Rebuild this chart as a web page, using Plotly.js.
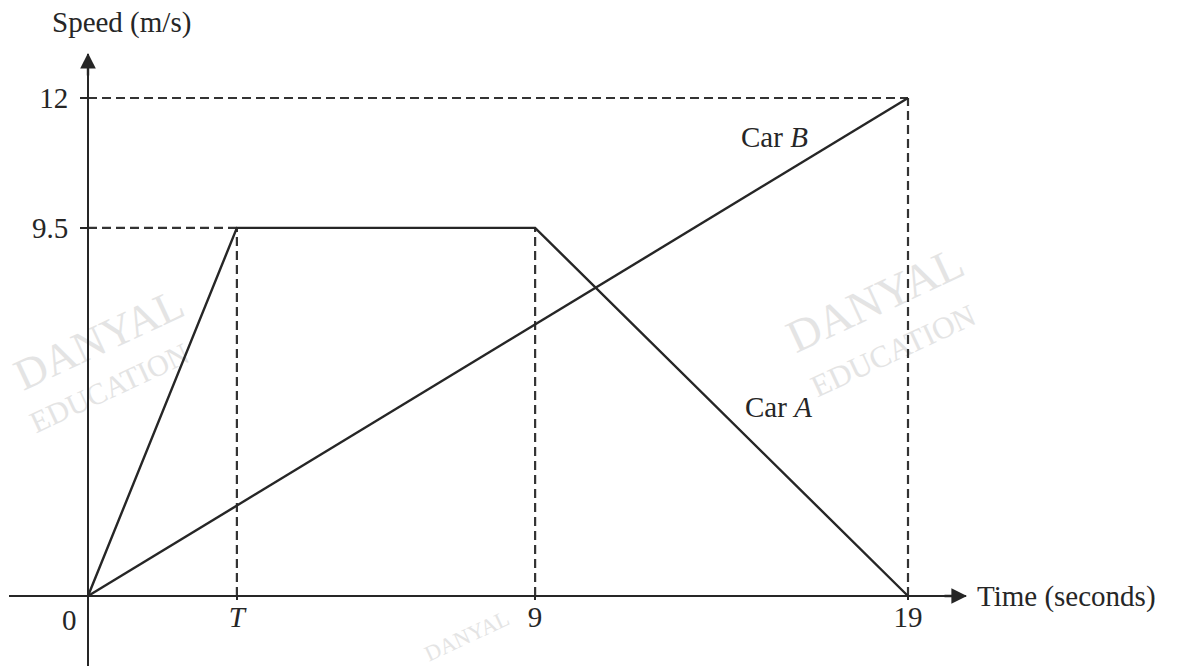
<!DOCTYPE html>
<html><head><meta charset="utf-8">
<script src="https://cdn.plot.ly/plotly-3.0.1.min.js"></script>
<style>html,body{margin:0;padding:0;background:#fff}#chart{width:1186px;height:666px}</style>
</head><body><div id="chart"></div>
<script>
// Values (the sketch is not drawn to scale,
// so the tick positions are where each labelled value sits on the drawing).
const timeLabels  = ['<i>T</i>', '9', '19'];
const timeTicks   = [3.45, 10.36, 19];
const speedLabels = ['9.5', '12'];
const speedTicks  = [8.87, 12];

const carATime  = [0, 3.45, 10.36, 19];
const carASpeed = [0, 8.87, 8.87, 0];
const carBTime  = [0, 19];
const carBSpeed = [0, 12];

const W = 1186, H = 666;
const px = v => v / W;          // pixel -> paper (x)
const py = v => 1 - v / H;      // pixel -> paper (y)

const ink = '#262626';
const serif = 'Liberation Serif, Times New Roman, serif';
const FS = 29;

const dashStyle = {color: '#333', width: 2.2, dash: '9px,5px'};
const traces = [];

// dashed guide lines, built from the data points
const tT = carATime[1], t9 = carATime[2], vA = carASpeed[1];
const tEnd = carBTime[1], vEnd = carBSpeed[1];
const guides = [
  {x: [0, tT], y: [vA, vA]},
  {x: [tT, tT], y: [0, vA]},
  {x: [t9, t9], y: [0, vA]},
  {x: [0, tEnd], y: [vEnd, vEnd]},
  {x: [tEnd, tEnd], y: [0, vEnd]}
];
guides.forEach(g => traces.push({type: 'scatter', mode: 'lines', x: g.x, y: g.y,
  line: dashStyle, hoverinfo: 'skip', showlegend: false}));

traces.push({type: 'scatter', mode: 'lines', name: 'Car A', x: carATime, y: carASpeed,
  line: {color: ink, width: 2.4}, showlegend: false});
traces.push({type: 'scatter', mode: 'lines', name: 'Car B', x: carBTime, y: carBSpeed,
  line: {color: ink, width: 2.4}, showlegend: false});

// faint watermark shapes (drawn below the lines)
function wm(cx, cy, text, size) {
  return {type: 'rect', xref: 'paper', yref: 'paper', layer: 'below',
    x0: px(cx - 120), x1: px(cx + 120), y0: py(cy + 40), y1: py(cy - 40),
    line: {width: 0}, fillcolor: 'rgba(0,0,0,0)',
    label: {text: text, textangle: -25, textposition: 'middle center',
      font: {family: serif, size: size, color: '#e4e4e4'}}};
}
const shapes = [
  wm(873, 295, 'DANYAL', 46), wm(892, 348, 'EDUCATION', 31),
  wm(97, 335, 'DANYAL', 44), wm(108, 385, 'EDUCATION', 30),
  wm(466, 634, 'DANYAL', 22)
];

const annotations = [
  {xref: 'paper', yref: 'paper', x: px(50), y: py(22), xanchor: 'left', yanchor: 'middle',
   text: 'Speed (m/s)', showarrow: false, font: {family: serif, size: FS, color: ink}},
  {xref: 'paper', yref: 'paper', x: px(975), y: py(596), xanchor: 'left', yanchor: 'middle',
   text: 'Time (seconds)', showarrow: false, font: {family: serif, size: FS, color: ink}},
  {xref: 'paper', yref: 'paper', x: px(69), y: py(620), xanchor: 'center', yanchor: 'middle',
   text: '0', showarrow: false, font: {family: serif, size: FS, color: ink}},
  {xref: 'paper', yref: 'paper', x: px(739), y: py(137), xanchor: 'left', yanchor: 'middle',
   text: 'Car <i>B</i>', showarrow: false, font: {family: serif, size: FS, color: ink}},
  {xref: 'paper', yref: 'paper', x: px(743), y: py(407), xanchor: 'left', yanchor: 'middle',
   text: 'Car <i>A</i>', showarrow: false, font: {family: serif, size: FS, color: ink}},
  // axis arrowheads
  {xref: 'paper', yref: 'paper', x: px(967), y: py(596), ax: -24, ay: 0, text: '',
   showarrow: true, arrowhead: 2, arrowsize: 1.3, arrowwidth: 2.4, arrowcolor: ink, standoff: 0},
  {xref: 'paper', yref: 'paper', x: px(88), y: py(53), ax: 0, ay: 24, text: '',
   showarrow: true, arrowhead: 2, arrowsize: 1.3, arrowwidth: 2.4, arrowcolor: ink, standoff: 0}
];

const xLeftPx = 9, xRightPx = 966, x0Px = 88, x19Px = 908;
const uX = tEnd / (x19Px - x0Px);
const yTopPx = 54, y0Px = 596, y12Px = 98;
const uY = vEnd / (y0Px - y12Px);

const layout = {
  width: W, height: H,
  margin: {l: 0, r: 0, t: 0, b: 0, pad: 0},
  paper_bgcolor: '#fff', plot_bgcolor: 'rgba(0,0,0,0)',
  showlegend: false,
  xaxis: {
    domain: [px(xLeftPx), px(xRightPx)],
    range: [-(x0Px - xLeftPx) * uX, tEnd + (xRightPx - x19Px) * uX],
    anchor: 'free', position: (H - y0Px) / H,
    showline: true, linecolor: ink, linewidth: 2.4,
    showgrid: false, zeroline: false,
    tickvals: timeTicks, ticktext: timeLabels,
    ticks: 'outside', ticklen: 3, tickwidth: 2, tickcolor: ink,
    ticklabelstandoff: -8,
    tickfont: {family: serif, size: FS, color: ink},
    fixedrange: true
  },
  yaxis: {
    domain: [0, 1 - yTopPx / H],
    range: [-(H - y0Px) * uY, vEnd + (y12Px - yTopPx) * uY],
    anchor: 'free', position: px(x0Px),
    showline: true, linecolor: ink, linewidth: 2.4,
    showgrid: false, zeroline: false,
    tickvals: speedTicks, ticktext: speedLabels,
    ticks: 'outside', ticklen: 7, tickwidth: 2, tickcolor: ink,
    ticklabelstandoff: 6,
    tickfont: {family: serif, size: FS, color: ink},
    fixedrange: true
  },
  shapes: shapes,
  annotations: annotations
};

Plotly.newPlot('chart', traces, layout, {displayModeBar: false, staticPlot: true});
</script>
</body></html>
